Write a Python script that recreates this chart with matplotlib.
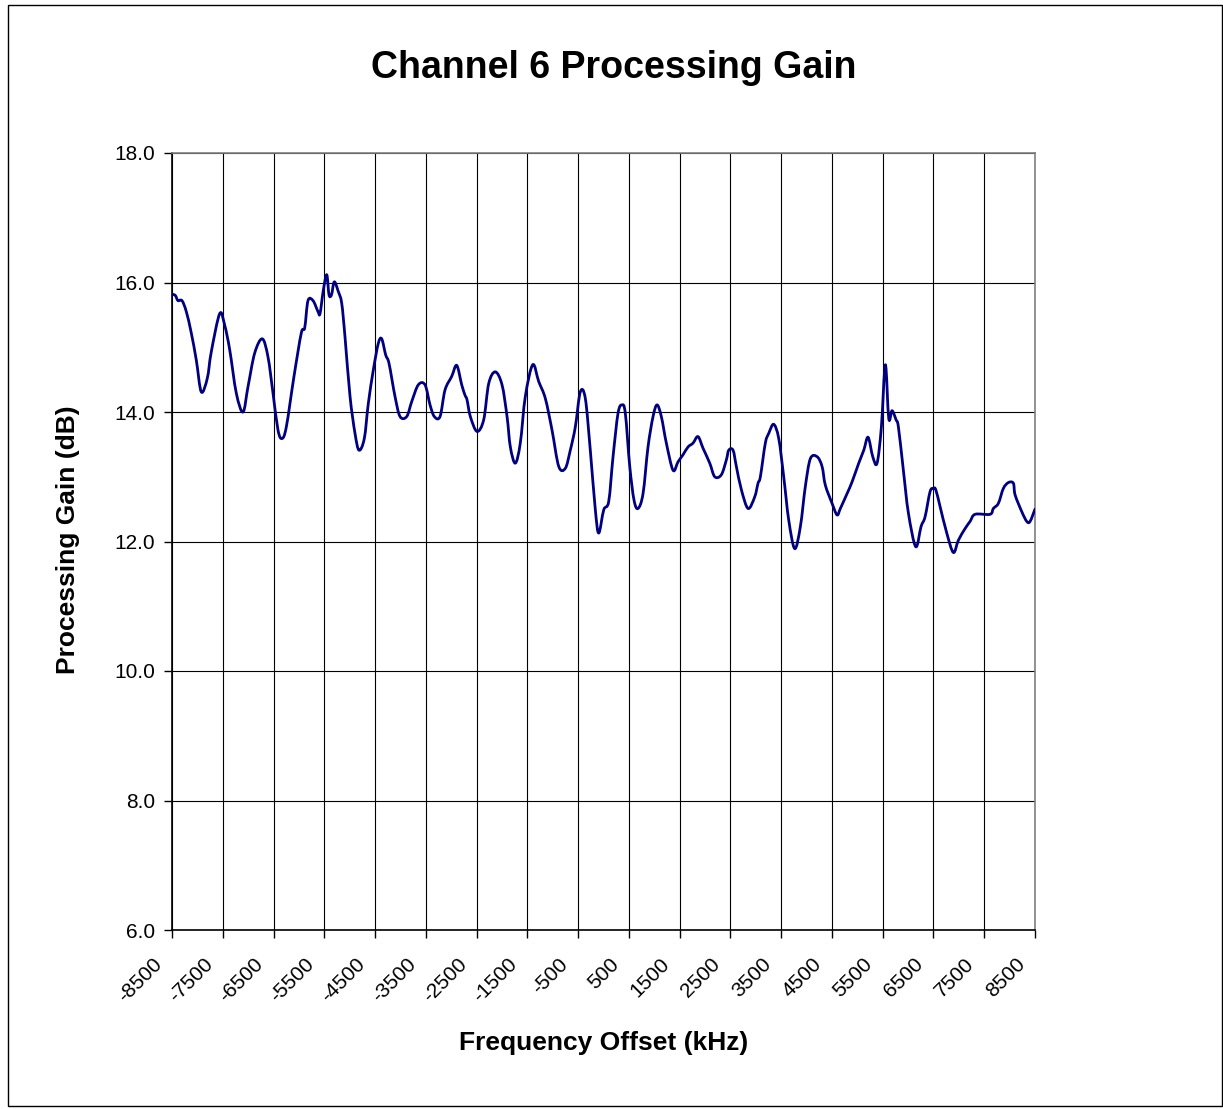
import matplotlib
matplotlib.use("Agg")
import matplotlib.pyplot as plt
import matplotlib.transforms as mtransforms
from matplotlib.patches import Rectangle, PathPatch
from matplotlib.path import Path

plt.rcParams['font.family'] = ['Liberation Sans', 'DejaVu Sans']

# Frequency offset (kHz) and processing gain (dB)
freq_khz = [
    -8500, -8435, -8382, -8303, -8218, -8120, -8021, -7923, -7805, -7726,
    -7560, -7462, -7363, -7233, -7101, -7003, -6871, -6721, -6609, -6510,
    -6412, -6333, -6248, -6097, -5953, -5886, -5821, -5722, -5624, -5584,
    -5519, -5452, -5407, -5358, -5303, -5224, -5157, -5092, -4993, -4895,
    -4816, -4712, -4633, -4534, -4436, -4369, -4290, -4225, -4107, -4008,
    -3876, -3778, -3648, -3516, -3417, -3333, -3220, -3122, -2990, -2891,
    -2793, -2728, -2689, -2623, -2492, -2360, -2261, -2131, -1999, -1900,
    -1835, -1737, -1639, -1540, -1394, -1276, -1146, -1014, -882, -752,
    -654, -555, -457, -358, -260, -161, -94, 5, 103, 188,
    286, 365, 430, 517, 601, 680, 779, 877, 976, 1055,
    1139, 1238, 1370, 1468, 1567, 1665, 1764, 1862, 1961, 2093,
    2191, 2321, 2420, 2467, 2552, 2617, 2716, 2848, 2979, 3044,
    3090, 3188, 3255, 3353, 3452, 3550, 3649, 3767, 3878, 3976,
    4075, 4207, 4305, 4370, 4502, 4601, 4666, 4798, 4896, 5028,
    5127, 5212, 5304, 5389, 5474, 5552, 5619, 5684, 5763, 5809,
    5907, 6006, 6151, 6255, 6334, 6433, 6498, 6545, 6630, 6762,
    6892, 6991, 7123, 7221, 7320, 7615, 7680, 7779, 7877, 7976,
    8074, 8108, 8240, 8338, 8403, 8500,
]
gain_db = [
    15.82, 15.80, 15.72, 15.72, 15.55, 15.22, 14.80, 14.31, 14.52, 14.93,
    15.52, 15.34, 14.96, 14.29, 14.00, 14.39, 14.91, 15.13, 14.85, 14.29,
    13.72, 13.59, 13.77, 14.55, 15.22, 15.30, 15.72, 15.72, 15.55, 15.52,
    15.88, 16.12, 15.81, 15.81, 16.01, 15.86, 15.68, 15.16, 14.24, 13.67,
    13.41, 13.59, 14.13, 14.65, 15.06, 15.13, 14.88, 14.75, 14.24, 13.93,
    13.93, 14.16, 14.42, 14.42, 14.11, 13.93, 13.93, 14.34, 14.55, 14.72,
    14.42, 14.26, 14.19, 13.93, 13.70, 13.88, 14.44, 14.62, 14.42, 13.93,
    13.46, 13.21, 13.52, 14.24, 14.73, 14.47, 14.21, 13.72, 13.16, 13.13,
    13.41, 13.77, 14.31, 14.21, 13.41, 12.49, 12.13, 12.49, 12.62, 13.31,
    13.98, 14.11, 13.98, 13.16, 12.64, 12.51, 12.74, 13.46, 13.93, 14.11,
    13.93, 13.52, 13.10, 13.23, 13.34, 13.46, 13.52, 13.62, 13.44, 13.21,
    13.00, 13.03, 13.26, 13.41, 13.41, 13.16, 12.80, 12.51, 12.69, 12.90,
    13.00, 13.52, 13.67, 13.81, 13.59, 13.00, 12.33, 11.89, 12.23, 12.85,
    13.28, 13.31, 13.16, 12.87, 12.59, 12.41, 12.51, 12.74, 12.92, 13.21,
    13.41, 13.61, 13.31, 13.21, 13.77, 14.73, 13.90, 14.02, 13.88, 13.77,
    13.10, 12.44, 11.92, 12.23, 12.38, 12.77, 12.82, 12.80, 12.54, 12.13,
    11.83, 12.02, 12.20, 12.31, 12.42, 12.42, 12.51, 12.59, 12.82, 12.91,
    12.90, 12.72, 12.46, 12.31, 12.31, 12.50,
]

x_ticks = [-8500, -7500, -6500, -5500, -4500, -3500, -2500, -1500, -500,
           500, 1500, 2500, 3500, 4500, 5500, 6500, 7500, 8500]
y_ticks = [6.0, 8.0, 10.0, 12.0, 14.0, 16.0, 18.0]


def smooth_path(xs, ys, tension=1.0 / 6.0):
    """Bezier path through the points (Catmull-Rom style, like a smoothed line)."""
    n = len(xs)
    verts = [(xs[0], ys[0])]
    codes = [Path.MOVETO]
    for i in range(n - 1):
        x0, y0 = (xs[i - 1], ys[i - 1]) if i > 0 else (xs[i], ys[i])
        x1, y1 = xs[i], ys[i]
        x2, y2 = xs[i + 1], ys[i + 1]
        x3, y3 = (xs[i + 2], ys[i + 2]) if i + 2 < n else (x2, y2)
        c1 = (x1 + (x2 - x0) * tension, y1 + (y2 - y0) * tension)
        c2 = (x2 - (x3 - x1) * tension, y2 - (y3 - y1) * tension)
        verts += [c1, c2, (x2, y2)]
        codes += [Path.CURVE4, Path.CURVE4, Path.CURVE4]
    return Path(verts, codes)


W, H = 1223, 1109
fig = plt.figure(figsize=(W / 100, H / 100), dpi=100)
fig.patch.set_facecolor('white')

# outer frame
fig.patches.append(Rectangle((8 / W, 1 - 1106 / H), (1222 - 8) / W, (1106 - 5) / H,
                             transform=fig.transFigure, fill=False,
                             edgecolor='black', linewidth=1.0))

ax = fig.add_axes([172 / W, 1 - 930 / H, (1035 - 172) / W, (930 - 153) / H])
ax.add_patch(PathPatch(smooth_path(freq_khz, gain_db), facecolor='none',
                       edgecolor='#000080', linewidth=2.0, joinstyle='round',
                       capstyle='round', zorder=3))

ax.set_xlim(-8500, 8500)
ax.set_ylim(6, 18)
ax.set_xticks(x_ticks)
ax.set_xticklabels([''] * len(x_ticks))
offset = mtransforms.ScaledTranslation(-13 / 100, -31 / 100, fig.dpi_scale_trans)
for v in x_ticks:
    ax.text(v, 0, str(v), transform=ax.get_xaxis_transform() + offset,
            rotation=45, ha='right', va='center', rotation_mode='anchor',
            fontsize=15, clip_on=False)
ax.set_yticks(y_ticks)
ax.set_yticklabels([f"{v:.1f}" for v in y_ticks], fontsize=15)
ax.grid(True, color='black', linewidth=0.8)
ax.set_axisbelow(True)
ax.tick_params(axis='both', direction='out', length=6, width=1, color='black')
ax.tick_params(axis='y', pad=6)
for s in ['left', 'bottom']:
    ax.spines[s].set_color('black')
    ax.spines[s].set_linewidth(1.2)
for s in ['top', 'right']:
    ax.spines[s].set_color('#808080')
    ax.spines[s].set_linewidth(1.2)

fig.text(614 / W, 1 - 68 / H, 'Channel 6 Processing Gain', ha='center', va='center',
         fontsize=27, fontweight='bold')
fig.text(604 / W, 1 - 1043 / H, 'Frequency Offset (kHz)', ha='center', va='center',
         fontsize=19, fontweight='bold')
fig.text(68 / W, 1 - 540 / H, 'Processing Gain (dB)', ha='center', va='center',
         rotation=90, fontsize=19, fontweight='bold')

fig.savefig('out.png', dpi=100)
